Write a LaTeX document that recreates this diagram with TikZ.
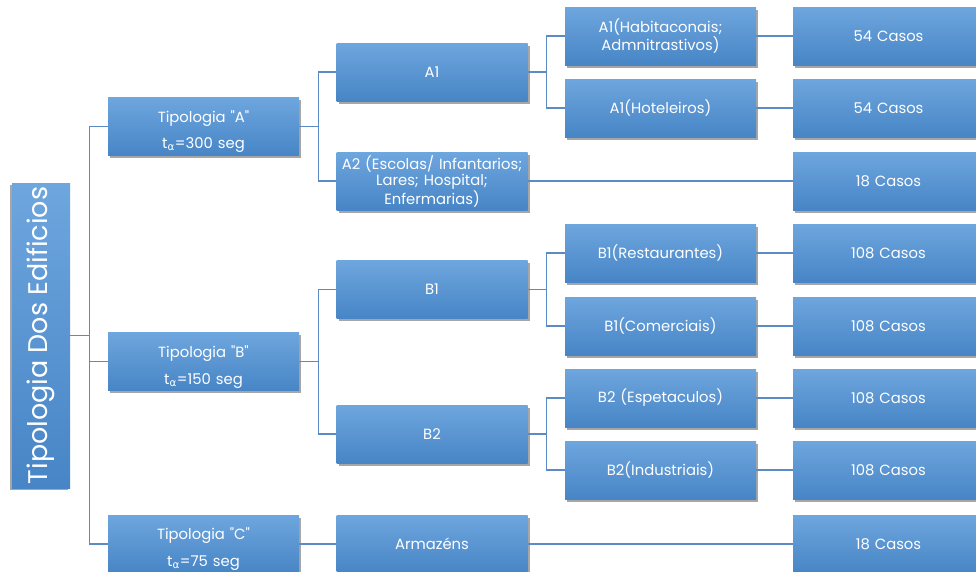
\documentclass[tikz,border=0pt]{standalone}
\usepackage{fontspec}
\setmainfont{Poppins}
\newfontfamily\greekfont{DejaVu Sans}
\usetikzlibrary{shadows}
\definecolor{boxtop}{HTML}{6EA6DE}
\definecolor{boxbot}{HTML}{4785C6}
\definecolor{linkblue}{HTML}{5B8AC4}
\newcommand{\talpha}{t\textsubscript{\greekfont α}}
\newcommand{\qd}{\textquotedbl}
% two-line type label, set a little below the box centre
\newcommand{\typelabel}[2]{\rule{0pt}{22pt}Tipologia \qd #1\qd\\[10pt]\talpha=#2 seg}
\tikzset{
  boxbase/.style={rectangle, inner sep=2pt,
    top color=boxtop, bottom color=boxbot, draw=none, text=white},
  box/.style={boxbase, minimum width=191pt, minimum height=58pt,
    align=center, text width=185pt,
    font=\fontsize{14.8}{16.5}\selectfont,
    drop shadow={shadow xshift=2pt, shadow yshift=-2.5pt, fill=black, opacity=0.35}},
  rootbox/.style={boxbase, minimum width=305pt, minimum height=58pt,
    rotate=90, font=\fontsize{27}{30}\selectfont,
    drop shadow={shadow xshift=-2.5pt, shadow yshift=-2pt, fill=black, opacity=0.35}},
  link/.style={draw=linkblue, line width=1.3pt}
}
\begin{document}
\begin{tikzpicture}[x=1pt, y=-1pt]
\useasboundingbox (0,0) rectangle (976,571);
\clip (0,0) rectangle (976,571);

% root
\node[rootbox] (root) at (41,335.5) {Tipologia Dos Edificios};

% first level
\node[box] (tA) at (203.5,126.5) {\typelabel{A}{300}};
\node[box] (tB) at (203.5,361.75) {\typelabel{B}{150}};
\node[box] (tC) at (203.5,544) {\typelabel{C}{75}};

% second level
\node[box] (a1) at (432,72) {A1};
\node[box] (a2) at (432,181) {A2 (Escolas/ Infantarios;\\ Lares; Hospital;\\ Enfermarias)};
\node[box] (b1) at (432,289.5) {B1};
\node[box] (b2) at (432,434) {B2};
\node[box] (arm) at (432,544) {Armazéns};

% third level
\node[box] (a1h) at (660.5,36) {A1(Habitaconais;\\ Admnitrastivos)};
\node[box] (a1o) at (660.5,108) {A1(Hoteleiros)};
\node[box] (b1r) at (660.5,253) {B1(Restaurantes)};
\node[box] (b1c) at (660.5,326) {B1(Comerciais)};
\node[box] (b2e) at (660.5,398) {B2 (Espetaculos)};
\node[box] (b2i) at (660.5,470) {B2(Industriais)};

% case counts
\node[box] (c1) at (888.5,36) {54 Casos};
\node[box] (c2) at (888.5,108) {54 Casos};
\node[box] (c3) at (888.5,181) {18 Casos};
\node[box] (c4) at (888.5,253) {108 Casos};
\node[box] (c5) at (888.5,326) {108 Casos};
\node[box] (c6) at (888.5,398) {108 Casos};
\node[box] (c7) at (888.5,470) {108 Casos};
\node[box] (c8) at (888.5,544) {18 Casos};

% connectors (the rotated root box has its south anchor on the right)
\foreach \c in {tA, tB, tC}
  \draw[link] (root.south) -- ++(19,0) |- (\c.west);
\foreach \p/\c in {tA/a1, tA/a2, tB/b1, tB/b2, tC/arm,
                   a1/a1h, a1/a1o, b1/b1r, b1/b1c, b2/b2e, b2/b2i}
  \draw[link] (\p.east) -- ++(19,0) |- (\c.west);
\foreach \p/\c in {a1h/c1, a1o/c2, a2/c3, b1r/c4, b1c/c5, b2e/c6, b2i/c7, arm/c8}
  \draw[link] (\p.east) -- (\c.west);
\end{tikzpicture}
\end{document}
